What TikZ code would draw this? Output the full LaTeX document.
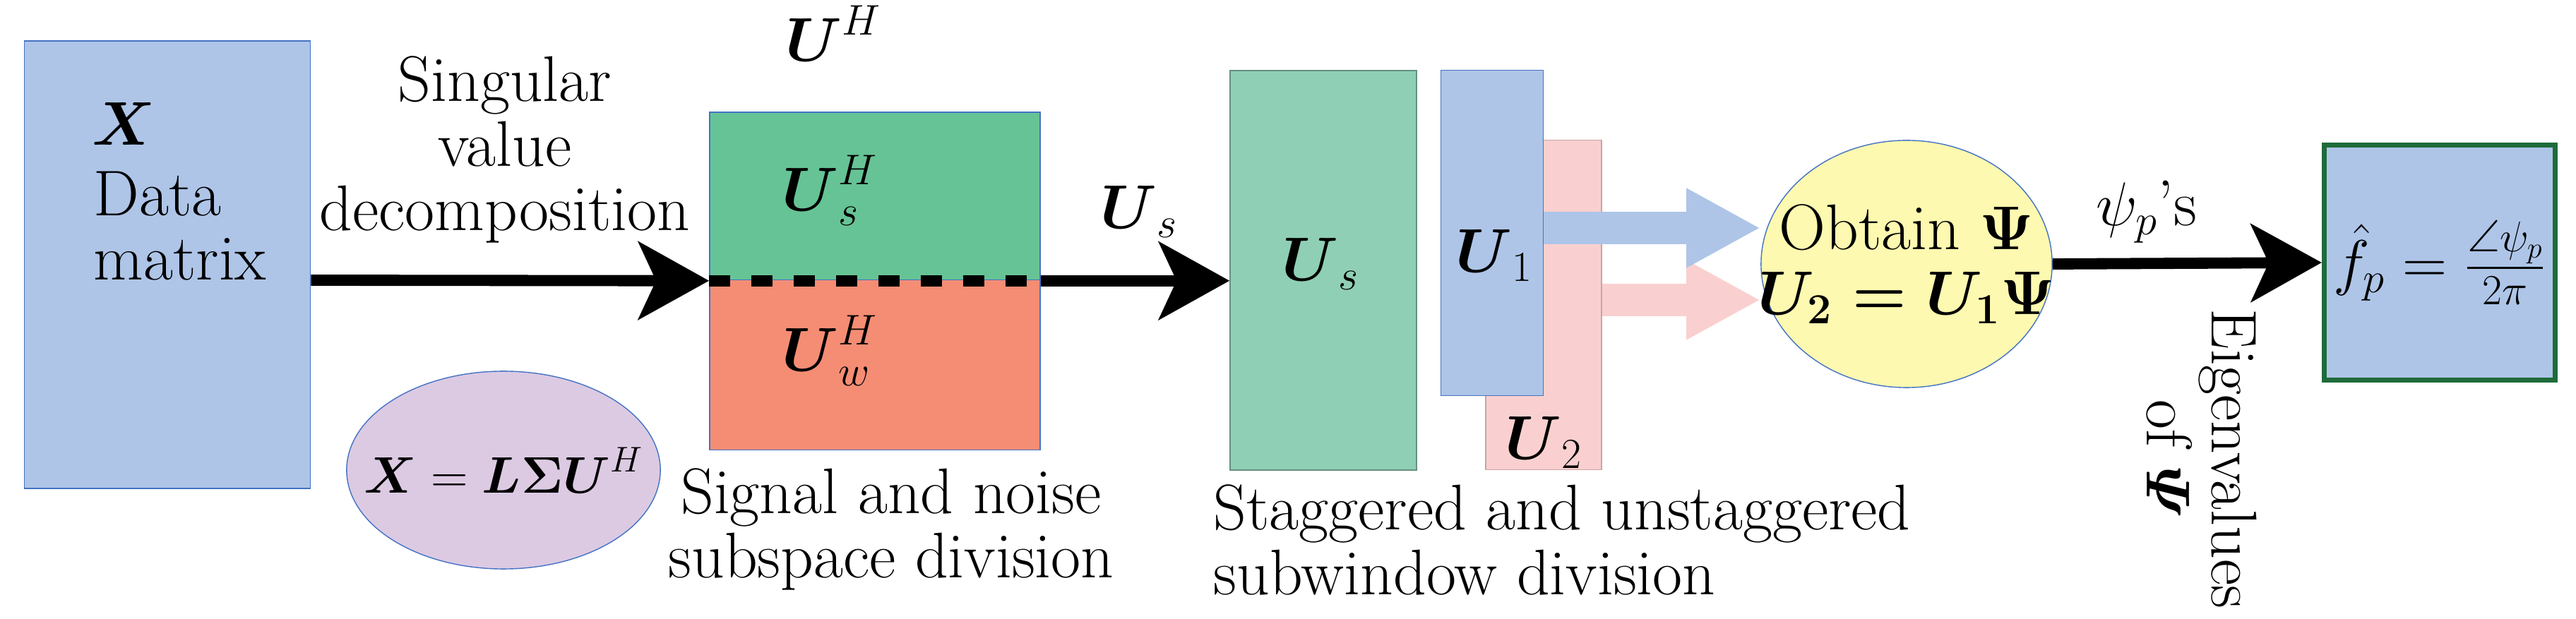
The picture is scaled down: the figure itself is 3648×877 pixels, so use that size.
\documentclass[tikz,border=0pt]{standalone}
\usepackage{amsmath}
\usepackage{amssymb}
\usepackage{xcolor}
\usetikzlibrary{arrows.meta,shapes,positioning}

\definecolor{boxblue}{HTML}{AEC5E7}
\definecolor{boxgreen}{HTML}{66C395}
\definecolor{boxred}{HTML}{F48D74}
\definecolor{boxteal}{HTML}{8FCFB5}
\definecolor{boxpink}{HTML}{F9D0CF}
\definecolor{boxpurple}{HTML}{DCCAE3}
\definecolor{boxyellow}{HTML}{FEF9B0}
\definecolor{edgeblue}{HTML}{4472C4}
\definecolor{edgegreen}{HTML}{1E6B3A}

\tikzset{
  block/.style={rectangle,draw=edgeblue,line width=0.4pt,inner sep=0pt},
  bubble/.style={ellipse,draw=edgeblue,line width=0.4pt,inner sep=0pt},
  txt/.style={font=\fontsize{26}{26}\selectfont,align=center,inner sep=0pt},
  flow/.style={line width=4.5pt,-{Stealth[length=1cm,width=1.1cm,inset=0.25cm]}},
  fat/.style={line width=0.45cm,-{Triangle[length=1.05cm,width=1.05cm]}}
}

\begin{document}
\begin{tikzpicture}[x=0.01cm,y=-0.01cm]
    \useasboundingbox (0,0) rectangle (3648,877);

    %data matrix
    \node[block,fill=boxblue,minimum width=4.05cm,minimum height=6.34cm] (data) at (237,375) {};
    \node[txt] (xname) at (175,175) {$\boldsymbol{X}$};
    \node[txt,align=left] (datatxt) at (255,320) {Data\\matrix};
    \node[bubble,fill=boxpurple,minimum width=4.44cm,minimum height=2.8cm] (svd) at (713,666) {};
    \node[txt,font=\fontsize{22}{22}\selectfont] at (svd) {$\boldsymbol{X}=\boldsymbol{L\Sigma U}^H$};

    %subspaces
    \node[block,fill=boxgreen,minimum width=4.68cm,minimum height=2.38cm] (ush) at (1239,278) {};
    \node[block,fill=boxred,minimum width=4.68cm,minimum height=2.41cm] (uwh) at (1239,517) {};
    \node[txt] at (1180,47) {$\boldsymbol{U}^H$};
    \node[txt] at (1175,270) {$\boldsymbol{U}_s^H$};
    \node[txt] at (1175,497) {$\boldsymbol{U}_w^H$};
    \node[txt] (sigtxt) at (1262,750) {Signal and noise\\subspace division};

    %subwindows
    \node[block,draw=boxteal!70!black,fill=boxteal,minimum width=2.64cm,minimum height=5.66cm] (usbox) at (1874,383) {};
    \node[txt] at (1870,374) {$\boldsymbol{U}_s$};
    \node[block,draw=boxpink!80!black,fill=boxpink,minimum width=1.64cm,minimum height=4.67cm] (utwo) at (2186,432) {};
    \node[txt] at (2186,627) {$\boldsymbol{U}_2$};
    \coordinate (pinkstart) at (utwo.east |- 0,425);
    \node[bubble,fill=boxyellow,minimum width=4.12cm,minimum height=3.5cm] (obtain) at (2700,374) {};
    \node[txt] at (obtain) {Obtain $\boldsymbol{\Psi}$\\$\boldsymbol{U_2=U_1\Psi}$};
    \coordinate (pinkend) at (obtain.west |- 0,425);
    \draw[fat,boxpink] (pinkstart) -- (pinkend);
    \node[block,fill=boxblue,minimum width=1.45cm,minimum height=4.61cm] (uone) at (2113,330) {};
    \node[txt] at (2116,362) {$\boldsymbol{U}_1$};
    \coordinate (bluestart) at (uone.east |- 0,323);
    \coordinate (blueend) at (obtain.west |- 0,323);
    \draw[fat,boxblue] (bluestart) -- (blueend);
    \node[txt,align=left,anchor=west] (subtxt) at (1718,765) {Staggered and unstaggered\\subwindow division};

    %frequency
    \node[block,draw=edgegreen,line width=2pt,fill=boxblue,minimum width=3.27cm,minimum height=3.32cm] (freq) at (3455,372) {};
    \node[txt] at (freq) {$\hat{f}_p=\frac{\angle\psi_p}{2\pi}$};

    %flow arrows
    \coordinate (cutw) at (ush.south west);
    \coordinate (cute) at (ush.south east);
    \draw[flow] (data.east |- 0,397) -- (cutw);
    \node[txt] at (715,212) {Singular\\value\\decomposition};
    \draw[line width=4.5pt,dash pattern=on 0.3cm off 0.3cm] (cutw) -- (cute);
    \draw[flow] (cute) -- (usbox.west |- cute);
    \node[txt] at (1613,300) {$\boldsymbol{U}_s$};
    \draw[flow] (obtain.east) -- (freq.west);
    \node[txt] at (3040,300) {$\psi_p$'s};
    \node[txt,rotate=-90] at (3118,650) {Eigenvalues\\of $\boldsymbol{\varPsi}$};
\end{tikzpicture}
\end{document}
